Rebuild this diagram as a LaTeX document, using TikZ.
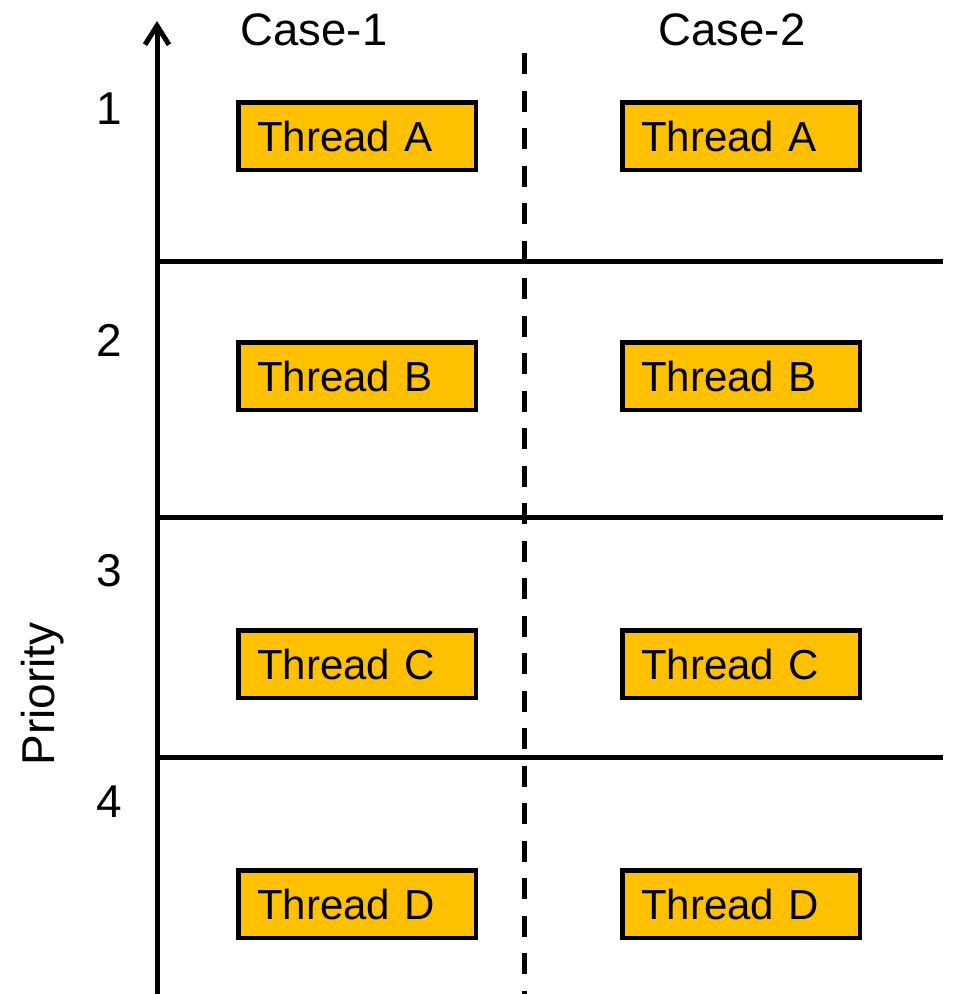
\documentclass[tikz,border=0pt]{standalone}
\usepackage{fontspec}
\setmainfont{Liberation Sans}
\usetikzlibrary{arrows.meta}
\definecolor{threadfill}{HTML}{FFC000}
\begin{document}
\begin{tikzpicture}[x=1pt,y=-1pt,
  rule/.style={line width=5pt},
  thread/.style={draw=black, line width=4.5pt, fill=threadfill,
    minimum width=237.5pt, minimum height=67.5pt,
    text width=199.5pt, inner xsep=19pt, inner ysep=0pt, align=left,
    text height=30.5pt, text depth=0pt,
    font=\fontsize{42}{48}\selectfont},
  heading/.style={font=\fontsize{45.5}{50}\selectfont, anchor=base, inner sep=0pt},
  level/.style={font=\fontsize{46}{50}\selectfont, anchor=base, inner sep=0pt}]
\useasboundingbox (0,0) rectangle (961,994);

% priority axis
\coordinate (axisfoot) at (157,994);
\coordinate (axistip) at (157,21);
\draw[rule, line join=round, -{Straight Barb[length=19pt,width=24pt]}] (axisfoot) -- (axistip);

% priority level separators
\foreach \y in {261,517,757} \draw[rule] (157,\y) -- (943,\y);

% divider between the two cases
\draw[rule, dash pattern=on 21pt off 16.5pt] (524,53) -- (524,994);

% column headings
\node[heading] (case1) at (314,45) {Case-1};
\node[heading] (case2) at (732,45) {Case-2};

% priority numbers
\node[level] (p1) at (109,124) {1};
\node[level] (p2) at (109,356) {2};
\node[level] (p3) at (109,586) {3};
\node[level] (p4) at (109,817) {4};

\node[font=\fontsize{46}{52}\selectfont, rotate=90, anchor=base, inner sep=0pt] (prio) at (54,694) {Priority};

% threads, case 1
\node[thread] (a1) at (357,136) {Thread A};
\node[thread] (b1) at (357,376) {Thread B};
\node[thread] (c1) at (357,664) {Thread C};
\node[thread] (d1) at (357,904) {Thread D};

% threads, case 2
\node[thread] (a2) at (741,136) {Thread A};
\node[thread] (b2) at (741,376) {Thread B};
\node[thread] (c2) at (741,664) {Thread C};
\node[thread] (d2) at (741,904) {Thread D};
\end{tikzpicture}
\end{document}
